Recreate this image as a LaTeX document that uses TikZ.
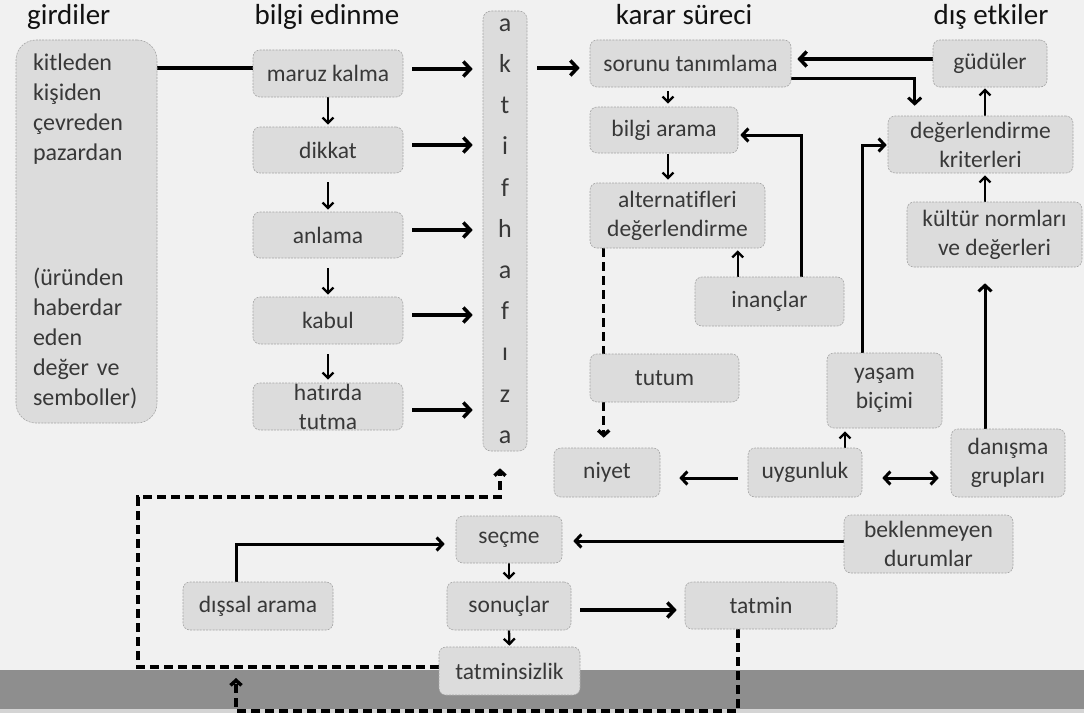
\documentclass[tikz,border=0pt]{standalone}
\usepackage{fontspec}
\setmainfont{Carlito}[Ligatures={NoCommon}]
\usetikzlibrary{arrows.meta,calc}

\definecolor{pagebg}{HTML}{F1F1F1}
\definecolor{boxfill}{HTML}{DCDCDC}
\definecolor{boxline}{HTML}{A6A6A6}
\definecolor{band}{HTML}{8E8E8E}
\definecolor{bandedge}{HTML}{D4D4D4}
\definecolor{boxtext}{HTML}{383838}
\definecolor{headtext}{HTML}{121212}

\pgfdeclarelayer{back}
\pgfdeclarelayer{lines}
\pgfsetlayers{back,lines,main}

\tikzset{
  stage/.style={draw=boxline, fill=boxfill, line width=0.6pt,
    dash pattern=on 2pt off 1.2pt, rounded corners=7pt, inner sep=0pt,
    align=center, text=boxtext, font=\fontsize{23.5}{29}\selectfont},
  heading/.style={font=\fontsize{29}{32}\selectfont, text=headtext,
    inner sep=0pt, anchor=base},
  link/.style={line width=3.5pt, draw=black},
  flow/.style={link, -{Straight Barb[length=7pt,width=15pt]}},
  conn/.style={line width=3pt, draw=black, -{Straight Barb[length=6pt,width=13pt]}},
  conn2/.style={line width=3pt, draw=black, {Straight Barb[length=6pt,width=13pt]}-{Straight Barb[length=6pt,width=13pt]}},
  hop/.style={line width=2.3pt, draw=black, -{Straight Barb[length=5.5pt,width=11pt]}},
  dashflow/.style={line width=3.5pt, draw=black, dash pattern=on 9pt off 5pt,
    -{Straight Barb[length=5pt,width=11pt]}},
}

\begin{document}
\begin{tikzpicture}[x=1pt,y=-1pt]
\useasboundingbox (0,0) rectangle (1084,717);

% page, bottom band
\begin{pgfonlayer}{back}
  \fill[pagebg] (0,0) rectangle (1084,717);
  \fill[band] (0,670) rectangle (1084,709);
  \fill[bandedge] (0,709) rectangle (1084,713);
  \fill[white] (0,713) rectangle (1084,717);
\end{pgfonlayer}

% column headings
\node[heading, anchor=base west] (hIn) at (27,25) {girdiler};
\node[heading] (hAcq) at (327,25) {bilgi edinme};
\node[heading] (hDec) at (684,25) {karar süreci};
\node[heading] (hExt) at (991,25) {dış etkiler};

% inputs
\node[stage, rounded corners=20pt, align=left, text width=107pt, inner xsep=17pt,
      minimum height=383pt, font=\fontsize{24}{30}\selectfont] (girdiler) at (86.5,231.5)
  {kitleden\\kişiden\\çevreden\\pazardan\\[95pt](üründen\\haberdar\\eden\\değer ve\\semboller)};

% information acquisition
\node[stage, minimum width=150pt, minimum height=47pt] (maruz)   at (328,73.5)  {maruz kalma};
\node[stage, minimum width=150pt, minimum height=46pt] (dikkat)  at (328,150)   {dikkat};
\node[stage, minimum width=150pt, minimum height=46pt] (anlama)  at (328,235)   {anlama};
\node[stage, minimum width=150pt, minimum height=47pt] (kabul)   at (328,320.5) {kabul};
\node[stage, minimum width=150pt, minimum height=47pt] (hatirda) at (328,406.5) {hatırda\\tutma};

% active memory
\node[stage, rounded corners=8pt, minimum width=44pt, minimum height=440pt,
      font=\fontsize{26}{41.2}\selectfont] (ah) at (505,231)
  {a\\k\\t\\i\\f\\h\\a\\f\\ı\\z\\a};

% decision process
\node[stage, minimum width=201pt, minimum height=47pt] (sorunu) at (690.5,63.5) {sorunu tanımlama};
\node[stage, minimum width=148pt, minimum height=46pt] (bilgi)  at (664,130)    {bilgi arama};
\node[stage, minimum width=175pt, minimum height=65pt] (altern) at (677.5,215.5) {alternatifleri\\değerlendirme};
\node[stage, minimum width=149pt, minimum height=49pt] (inanc)  at (769.5,301.5) {inançlar};
\node[stage, minimum width=149pt, minimum height=48pt] (tutum)  at (664.5,378)  {tutum};
\node[stage, minimum width=106pt, minimum height=49pt] (niyet)  at (607,472.5)  {niyet};
\node[stage, minimum width=114pt, minimum height=49pt] (uygun)  at (805,472.5)  {uygunluk};
\node[stage, minimum width=115pt, minimum height=75pt] (yasam)  at (884.5,390.5) {yaşam\\biçimi};
\node[stage, minimum width=114pt, minimum height=68pt] (danisma) at (1008,463)  {danışma\\grupları};

% external influences
\node[stage, minimum width=114pt, minimum height=47pt] (guduler) at (990,63.5)  {güdüler};
\node[stage, minimum width=185pt, minimum height=57pt] (kriter)  at (980.5,144.5) {değerlendirme\\kriterleri};
\node[stage, minimum width=175pt, minimum height=65pt] (kultur)  at (994.5,234.5) {kültür normları\\ve değerleri};

% purchase and outcomes
\node[stage, minimum width=106pt, minimum height=47pt] (secme)     at (509,539.5) {seçme};
\node[stage, minimum width=124pt, minimum height=48pt] (sonuc)     at (509,606)   {sonuçlar};
\node[stage, minimum width=141pt, minimum height=48pt] (tatminsiz) at (509.5,671) {tatminsizlik};
\node[stage, minimum width=150pt, minimum height=48pt] (dissal)    at (258,606)   {dışsal arama};
\node[stage, minimum width=152pt, minimum height=47pt] (tatmin)    at (761,605.5) {tatmin};
\node[stage, minimum width=169pt, minimum height=58pt] (beklen)    at (928.5,544) {beklenmeyen\\durumlar};

% corners of the feedback loops
\coordinate (loopL) at (138,497);
\coordinate (loopB) at (236,711);
\coordinate (loopTip) at (236,678);

\begin{pgfonlayer}{lines}
  % inputs -> exposure
  \draw[link] ($(maruz.west -| girdiler.east)+(0,-5.5)$) -- ($(maruz.west)+(0,-5.5)$);

  % acquisition stages -> active memory
  \draw[flow] ($(maruz.east)+(9,-4.5)$)   -- ($(maruz.east -| ah.west)+(-10,-4.5)$);
  \draw[flow] ($(dikkat.east)+(9,-5)$)    -- ($(dikkat.east -| ah.west)+(-10,-5)$);
  \draw[flow] ($(anlama.east)+(9,-5)$)    -- ($(anlama.east -| ah.west)+(-10,-5)$);
  \draw[flow] ($(kabul.east)+(9,-5.5)$)   -- ($(kabul.east -| ah.west)+(-10,-5.5)$);
  \draw[flow] ($(hatirda.east)+(9,3.5)$)  -- ($(hatirda.east -| ah.west)+(-10,3.5)$);

  % acquisition steps
  \draw[hop] (maruz.south) -- ($(dikkat.north)+(0,-2)$);
  \draw[hop] ($(dikkat.south)+(0,9)$) -- ($(anlama.north)+(0,-2)$);
  \draw[hop] ($(anlama.south)+(0,10)$) -- ($(kabul.north)+(0,-2)$);
  \draw[hop] ($(kabul.south)+(0,10)$) -- ($(hatirda.north)+(0,-3)$);

  % active memory -> problem recognition
  \draw[flow] ($(sorunu.west -| ah.east)+(10,4.5)$) -- ($(sorunu.west)+(-10,4.5)$);

  % decision chain
  \draw[hop] ($(bilgi.north |- sorunu.south)+(4,4)$) -- ($(bilgi.north)+(4,-3)$);
  \draw[hop] ($(bilgi.south)+(4,1)$) -- ($(bilgi.south |- altern.north)+(4,-3)$);
  \draw[hop] ($(inanc.north west)+(43,0)$) -- ($(inanc.north west |- altern.south)+(43,2)$);
  \draw[conn] ($(inanc.north west)+(107,0)$) |- ($(bilgi.east)+(2,5)$);
  \draw[dashflow] ($(altern.south west)+(14,0)$) -- ($(altern.south west |- niyet.north)+(14,-10)$);

  % motives and criteria
  \draw[flow] ($(guduler.west)+(0,-4.5)$) -- ($(sorunu.east)+(6,-4.5)$);
  \draw[conn] ($(sorunu.east)+(0,14.5)$) -| ($(kriter.north west)+(27,-10)$);
  \draw[hop] ($(kriter.north)+(4.5,0)$) -- ($(kriter.north |- guduler.south)+(4.5,1)$);
  \draw[hop] ($(kultur.north)+(-9.5,0)$) -- ($(kultur.north |- kriter.south)+(-9.5,2)$);
  \draw[conn] ($(danisma.north)+(-23,0)$) -- ($(danisma.north |- kultur.south)+(-23,16)$);
  \draw[conn] ($(yasam.north)+(-22.5,0)$) |- ($(kriter.west)+(-1,0.5)$);

  % suitability
  \draw[hop] ($(uygun.north)+(40,0)$) -- ($(uygun.north |- yasam.south)+(40,3)$);
  \draw[conn] ($(uygun.west)+(-10,5.5)$) -- ($(niyet.east)+(19,5.5)$);
  \draw[conn2] ($(uygun.east)+(20,5.5)$) -- ($(uygun.east -| danisma.west)+(-12,5.5)$);

  % choice and outcomes
  \draw[conn] ($(dissal.north)+(-22,0)$) |- ($(secme.west)+(-11,4.5)$);
  \draw[conn] ($(secme.east -| beklen.west)+(0,1.5)$) -- ($(secme.east)+(11,1.5)$);
  \draw[hop] (secme.south) -- ($(sonuc.north)+(0,-2)$);
  \draw[hop] (sonuc.south) -- ($(tatminsiz.north)+(0,-1)$);
  \draw[flow] ($(sonuc.east)+(9,4)$) -- ($(sonuc.east -| tatmin.west)+(-8,4)$);

  % feedback loops
  \draw[dashflow] ($(tatminsiz.west)+(0,-4)$) -| (loopL) -| ($(ah.south)+(-5,17)$);
  \draw[dashflow] ($(tatmin.south)+(-23,0)$) |- (loopB) -- (loopTip);
\end{pgfonlayer}
\end{tikzpicture}
\end{document}
